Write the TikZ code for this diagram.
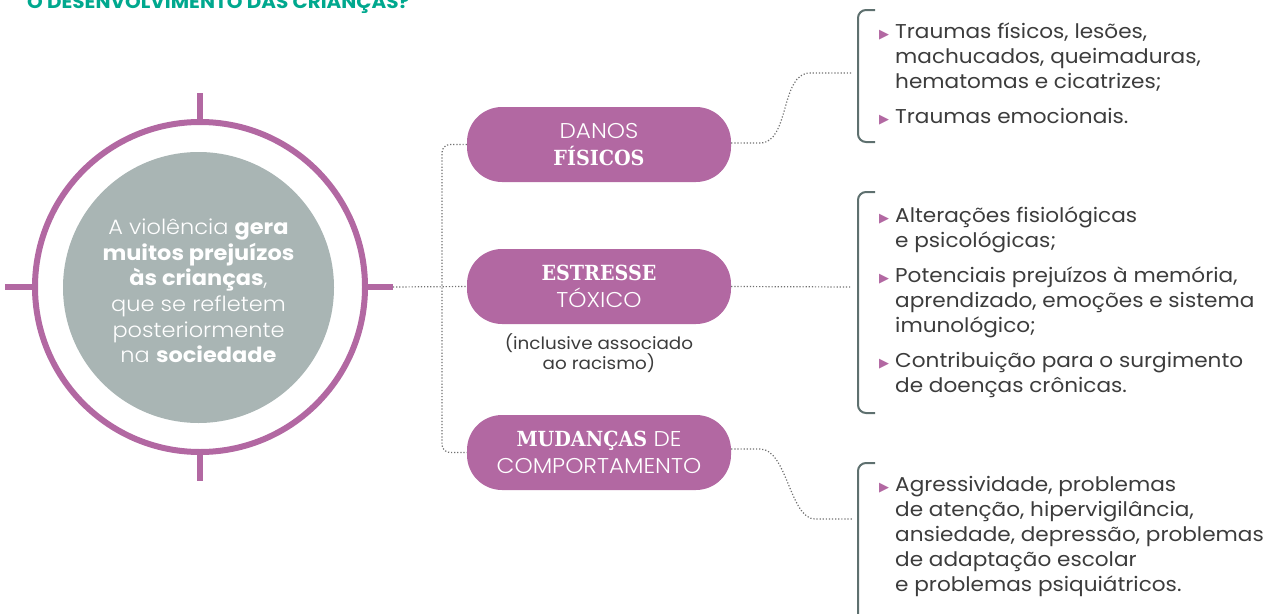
\documentclass[tikz,border=0pt]{standalone}
\usepackage{fontspec}
\setmainfont{Poppins}[FakeStretch=1.08]
\newfontfamily\plight{Poppins Light}[FakeStretch=1.08]
\newfontfamily\slab{DejaVu Serif}[FakeStretch=0.92]
\newfontfamily\dvs{DejaVu Sans}
\usepackage{array}
\definecolor{pu}{HTML}{B268A2}
\definecolor{gr}{HTML}{A9B5B4}
\definecolor{tx}{HTML}{3C3C3C}
\definecolor{br}{HTML}{5E706F}
\definecolor{dt}{HTML}{707070}
\definecolor{tl}{HTML}{00A88E}
\newcommand\Bd[1]{{\rmfamily\bfseries #1}}
\newcommand\Sb[1]{{\slab\bfseries\fontsize{20.8}{27}\selectfont #1}}
\newcommand\bul{\llap{{\dvs\fontsize{13}{13}\selectfont\color{pu}▶}\hspace{6pt}}}
\tikzset{
  pill/.style={fill=pu, rounded corners=35pt, minimum width=264pt, minimum height=75pt, inner sep=0pt, text=white, align=center, font=\plight\fontsize{21.4}{27.5}\selectfont},
  dots/.style={draw=dt, line width=1.2pt, dash pattern=on 1.2pt off 1.9pt},
  brk/.style={draw=br, line width=2pt, rounded corners=8pt},
  tick/.style={draw=pu, line width=6pt},
  list/.style={anchor=base west, inner sep=0pt, text=tx, font=\fontsize{20}{25}\selectfont}
}
\begin{document}
\begin{tikzpicture}[x=1pt,y=-1pt]
\useasboundingbox (0,0) rectangle (1274,613);
% title
\node[anchor=base west, inner sep=0pt, text=tl, font=\bfseries\fontsize{18.5}{20}\selectfont] (title) at (27,8.5) {O DESENVOLVIMENTO DAS CRIANÇAS?};
% circle
\node[circle, draw=pu, line width=6pt, minimum size=330pt, inner sep=0pt] (ring) at (200,287) {};
\node[circle, fill=gr, minimum size=271pt, inner sep=0pt] (core) at (198.5,287.5) {};
\draw[tick] (ring.north) -- ++(0,-26);
\draw[tick] (ring.south) -- ++(0,26);
\draw[tick] (ring.west) -- ++(-27,0);
\draw[tick] (ring.east) -- ++(25,0) coordinate (rt);
\node[text=white, align=center, font=\plight\fontsize{20.8}{25.6}\selectfont] (ctext) at (198.5,291) {A violência \Bd{gera}\\ \Bd{muitos prejuízos}\\ \Bd{às crianças},\\ que se refletem\\ posteriormente\\ na \Bd{sociedade}};
% pills
\node[pill] (p1) at (599,144.5) {DANOS\\ \Sb{FÍSICOS}};
\node[pill] (p2) at (599,286.5) {\Sb{ESTRESSE}\\ TÓXICO};
\node[pill] (p3) at (599,452.5) {\Sb{MUDANÇAS} DE\\ COMPORTAMENTO};
\node[text=tx, align=center, font=\fontsize{17}{19}\selectfont] (cap) at (599,353) {(inclusive associado\\ ao racismo)};
% left connectors
\draw[dots] (rt) -- (p2.west);
\draw[dots, rounded corners=8pt] (p1.west) -- (442,144.5) -- (442,452.5) -- (p3.west);
% brackets
\draw[brk] (875,10) -- (858,10) -- (858,142) -- (875,142);
\draw[brk] (875,192) -- (858,192) -- (858,413) -- (875,413);
\draw[brk] (875,463) -- (858,463) -- (858,640);
\coordinate (b1) at (852,73);
\coordinate (b2) at (851,287);
\coordinate (b3) at (852,519);
% right connectors
\draw[dots] (p1.east |- 0,143) -- (760,143) .. controls (790,143) and (780,73) .. (810,73) -- (b1);
\draw[dots] (p2.east) -- (b2);
\draw[dots] (p3.east |- 0,449) -- (760,449) .. controls (787,449) and (790,519) .. (815,519) -- (b3);
% lists
\node[list] (l1) at (895,38) {\begin{tabular}[t]{@{}l@{}}
\bul Traumas físicos, lesões,\\
machucados, queimaduras,\\
hematomas e cicatrizes;\\[10pt]
\bul Traumas emocionais.
\end{tabular}};
\node[list] (l2) at (895,222.5) {\begin{tabular}[t]{@{}l@{}}
\bul Alterações fisiológicas\\
e psicológicas;\\[10pt]
\bul Potenciais prejuízos à memória,\\
aprendizado, emoções e sistema\\
imunológico;\\[10pt]
\bul Contribuição para o surgimento\\
de doenças crônicas.
\end{tabular}};
\node[list] (l3) at (895,491) {\begin{tabular}[t]{@{}l@{}}
\bul Agressividade, problemas\\
de atenção, hipervigilância,\\
ansiedade, depressão, problemas\\
de adaptação escolar\\
e problemas psiquiátricos.
\end{tabular}};
\end{tikzpicture}
\end{document}
